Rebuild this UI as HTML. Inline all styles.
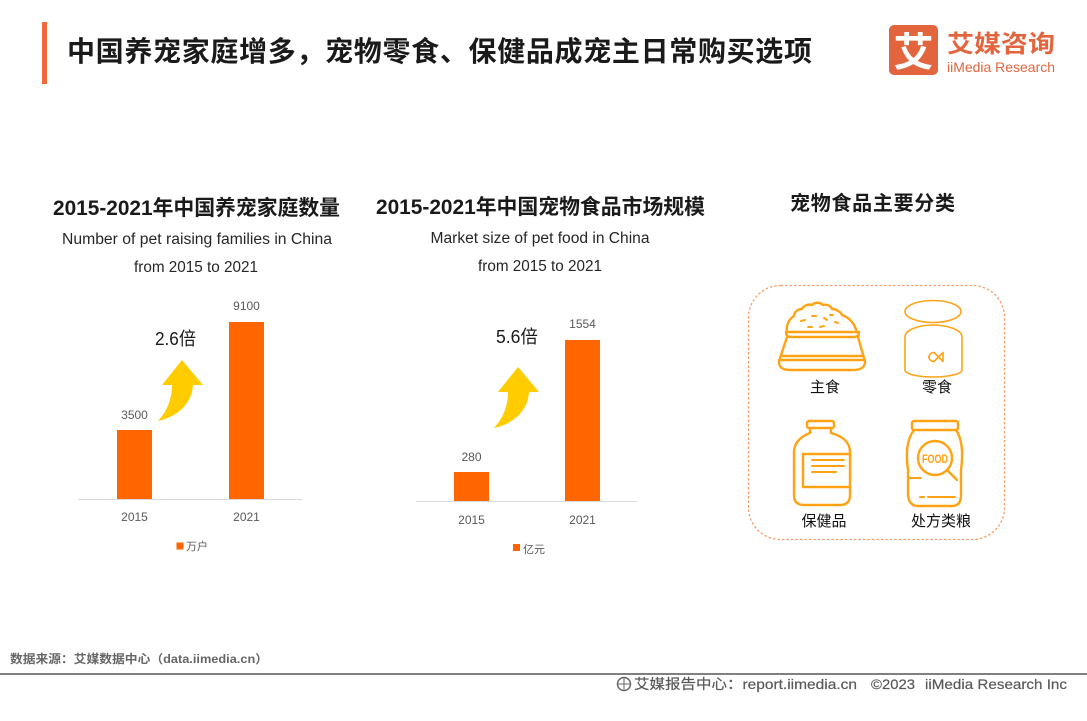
<!DOCTYPE html>
<html><head><meta charset="utf-8"><style>
html,body{margin:0;padding:0;background:#fff;}
svg{display:block;}
text{font-family:"Liberation Sans","Noto Sans CJK SC",sans-serif;}
</style></head><body>
<svg width="1087" height="721" viewBox="0 0 1087 721" xmlns="http://www.w3.org/2000/svg">
<rect width="1087" height="721" fill="#fff"/>
<!-- header -->
<rect x="42" y="22" width="5" height="62" fill="#F0693A"/>
<text x="67" y="61" font-size="28" font-weight="bold" fill="#1a1a1a" textLength="745">中国养宠家庭增多，宠物零食、保健品成宠主日常购买选项</text>
<rect x="889" y="25" width="49" height="50" rx="5" fill="#E2653E"/>
<text x="913.5" y="66" font-size="40" font-weight="bold" fill="#fff" text-anchor="middle">艾</text>
<text x="947" y="52" font-size="24" font-weight="bold" fill="#E2653E" textLength="108" lengthAdjust="spacingAndGlyphs">艾媒咨询</text>
<text x="947" y="72" font-size="14" fill="#E2653E" textLength="108" lengthAdjust="spacingAndGlyphs">iiMedia Research</text>

<!-- chart 1 -->
<text x="196.5" y="215" font-size="21" font-weight="bold" fill="#1a1a1a" text-anchor="middle" textLength="287" lengthAdjust="spacingAndGlyphs">2015-2021年中国养宠家庭数量</text>
<text x="197" y="244" font-size="15.5" fill="#262626" text-anchor="middle" textLength="270" lengthAdjust="spacingAndGlyphs">Number of pet raising families in China</text>
<text x="196" y="272" font-size="15.5" fill="#262626" text-anchor="middle" textLength="124" lengthAdjust="spacingAndGlyphs">from 2015 to 2021</text>
<line x1="78" y1="499.5" x2="302" y2="499.5" stroke="#d9d9d9" stroke-width="1"/>
<rect x="117" y="430" width="35" height="69" fill="#FF6600"/>
<rect x="229" y="322" width="35" height="177" fill="#FF6600"/>
<text x="134.5" y="419" font-size="12" fill="#595959" text-anchor="middle">3500</text>
<text x="246.5" y="310" font-size="12" fill="#595959" text-anchor="middle">9100</text>
<text x="134.5" y="521" font-size="12" fill="#595959" text-anchor="middle">2015</text>
<text x="246.5" y="521" font-size="12" fill="#595959" text-anchor="middle">2021</text>
<rect x="176.5" y="542.5" width="7" height="7" fill="#FF6600"/>
<text x="186" y="550" font-size="11" fill="#595959">万户</text>
<text x="155" y="345" font-size="18" fill="#1a1a1a" textLength="41" lengthAdjust="spacingAndGlyphs">2.6倍</text>
<path d="M182,360 L203,385 L193,385 C192,402 180,416 158,421 C168,410 172,398 172,385 L162,385 Z" fill="#FFCC00"/>

<!-- chart 2 -->
<text x="540.5" y="214" font-size="21" font-weight="bold" fill="#1a1a1a" text-anchor="middle" textLength="329" lengthAdjust="spacingAndGlyphs">2015-2021年中国宠物食品市场规模</text>
<text x="540" y="243" font-size="15.5" fill="#262626" text-anchor="middle" textLength="219" lengthAdjust="spacingAndGlyphs">Market size of pet food in China</text>
<text x="540" y="271" font-size="15.5" fill="#262626" text-anchor="middle" textLength="124" lengthAdjust="spacingAndGlyphs">from 2015 to 2021</text>
<line x1="416" y1="501.5" x2="637" y2="501.5" stroke="#d9d9d9" stroke-width="1"/>
<rect x="454" y="472" width="35" height="29" fill="#FF6600"/>
<rect x="565" y="340" width="35" height="161" fill="#FF6600"/>
<text x="471.5" y="461" font-size="12" fill="#595959" text-anchor="middle">280</text>
<text x="582.5" y="328" font-size="12" fill="#595959" text-anchor="middle">1554</text>
<text x="471.5" y="524" font-size="12" fill="#595959" text-anchor="middle">2015</text>
<text x="582.5" y="524" font-size="12" fill="#595959" text-anchor="middle">2021</text>
<rect x="513" y="544" width="7" height="7" fill="#FF6600"/>
<text x="523" y="553" font-size="11" fill="#595959">亿元</text>
<text x="496" y="343" font-size="18" fill="#1a1a1a" textLength="42" lengthAdjust="spacingAndGlyphs">5.6倍</text>
<path d="M518,367 L539,392 L529,392 C528,409 516,423 494,428 C504,417 508,405 508,392 L498,392 Z" fill="#FFCC00"/>

<!-- right panel -->
<text x="872.5" y="210" font-size="20" font-weight="bold" fill="#1a1a1a" text-anchor="middle" textLength="165">宠物食品主要分类</text>
<rect x="748.5" y="285.5" width="256" height="254" rx="32" fill="none" stroke="#F7A06A" stroke-width="1.3" stroke-dasharray="2.5,2"/>

<g fill="none" stroke="#FFA315" stroke-width="2.4" stroke-linecap="round" stroke-linejoin="round">
  <!-- bowl -->
  <path d="M787,332 C786,325 789,319 794,316 C794,312 798,309 802,309 C804,305 809,304 812,305 C815,302 820,302 823,305 C827,304 831,306 832,309 C836,309 841,312 842,315 C848,317 853,322 855,327 L857,332"/>
  <path d="M786,332 Q786,337 791,337 L854,337 Q859,337 859,332 Z"/>
  <path d="M787,337 L780,358 M858,337 L864,358"/>
  <path d="M782,356 L862,356"/>
  <path d="M779,360 Q778,370 790,370 L853,370 Q866,370 865,360 Z"/>
  <path d="M801,321 l4,-1 M812,316 l4,0 M824,318 l3,2 M808,327 l4,0 M820,327 l4,-1 M835,322 l3,1 M830,315 l3,0" stroke-width="2"/>
  <!-- bottle -->
  <rect x="807" y="421" width="27" height="7" rx="2"/>
  <path d="M810,428 L810,433 C802,436 794,442 794,452 L794,495 Q794,505 804,505 L840,505 Q850,505 850,495 L850,452 C850,442 842,436 831,433 L831,428"/>
  <path d="M850,454 L803,454 L803,487 L850,487"/>
  <path d="M812,460 L844,460 M812,466 L844,466 M812,472 L836,472" stroke-width="2"/>
  <!-- food bag -->
  <rect x="912" y="421" width="46" height="9" rx="2"/>
  <path d="M914,430 C906,440 906,455 908,470 L908,495 Q909,506 918,506 L952,506 Q961,506 961,495 L961,470 C963,455 963,440 956,430"/>
  <circle cx="935" cy="458" r="17"/>
  <path d="M947,470 L957,480"/>
  <path d="M908,478 L921,478 M928,497 L955,497 M920,497 L924,497" stroke-width="2"/>
</g>
<text x="935" y="463" font-size="12" font-weight="bold" fill="#FFA315" text-anchor="middle" textLength="26" lengthAdjust="spacingAndGlyphs">FOOD</text>
<g fill="none" stroke="#FFA315" stroke-width="1.6" stroke-linecap="round">
  <!-- can -->
  <ellipse cx="933" cy="311.5" rx="28" ry="11"/>
  <path d="M905,337 C905,330 918,325 933,325 C948,325 962,330 962,337 L962,370 C962,374 948,377 933,377 C918,377 905,374 905,370 Z"/>
  <path d="M934,352.5 A5,4.5 0 1 0 934,361.5"/>
  <path d="M934,352.5 L943,361.5 M934,361.5 L943,352.5 M943,352.5 L943,361.5"/>
</g>
<circle cx="929" cy="357" r="1" fill="#FFA315"/>
<text x="825" y="392" font-size="15" fill="#111" text-anchor="middle">主食</text>
<text x="937" y="392" font-size="15" fill="#111" text-anchor="middle">零食</text>
<text x="824" y="526" font-size="15" fill="#111" text-anchor="middle">保健品</text>
<text x="941" y="526" font-size="15" fill="#111" text-anchor="middle">处方类粮</text>

<!-- footer -->
<text x="10" y="663" font-size="12" font-weight="bold" fill="#666" textLength="258" lengthAdjust="spacingAndGlyphs">数据来源：艾媒数据中心（data.iimedia.cn）</text>
<line x1="0" y1="674" x2="1087" y2="674" stroke="#808080" stroke-width="2"/>
<circle cx="624" cy="684" r="6.5" fill="none" stroke="#666" stroke-width="1.5"/>
<path d="M618,684 L630,684 M624,678 L624,690" stroke="#666" stroke-width="1"/>
<text x="634" y="689" font-size="14" fill="#595959" stroke="#595959" stroke-width="0.2" textLength="223" lengthAdjust="spacingAndGlyphs">艾媒报告中心：report.iimedia.cn</text>
<text x="871" y="689" font-size="14" fill="#595959" stroke="#595959" stroke-width="0.2" textLength="44" lengthAdjust="spacingAndGlyphs">©2023</text>
<text x="925" y="689" font-size="14" fill="#595959" stroke="#595959" stroke-width="0.2" textLength="142" lengthAdjust="spacingAndGlyphs">iiMedia Research Inc</text>
</svg>
</body></html>
